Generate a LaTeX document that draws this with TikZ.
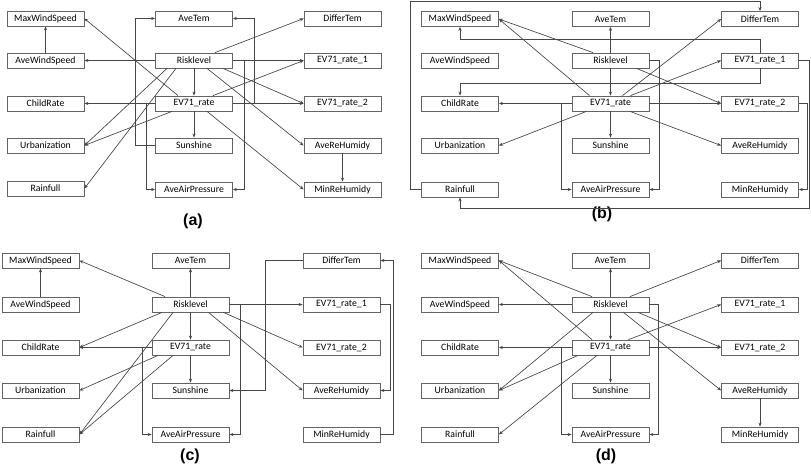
\documentclass[tikz,border=0pt]{standalone}
\usepackage{fontspec}
\usetikzlibrary{arrows.meta,calc}
\newfontfamily\boxfont{Carlito}
\newfontfamily\capfont{Liberation Sans}
\definecolor{edgegray}{RGB}{70,70,70}
\definecolor{boxgray}{RGB}{100,100,100}
\tikzset{every picture/.style={line width=0.5pt}}
\tikzset{
  var/.style={draw=boxgray, line width=0.6pt, minimum width=57.75pt, minimum height=11.25pt, inner sep=0pt, font=\boxfont\fontsize{7.3}{8}\selectfont},
  link/.style={draw=edgegray, -{Stealth[length=3pt,width=2.4pt]}},
  panellabel/.style={font=\capfont\bfseries\fontsize{12}{14}\selectfont}
}

\begin{document}
\begin{tikzpicture}[x=0.75pt,y=0.75pt,yscale=-1,xscale=1]
\useasboundingbox (0,0) rectangle (811,466);

%Panel (a)
\node [var] (amax)   at (45.5,18.5)  {MaxWindSpeed};
\node [var] (awind)  at (45.5,60.5)  {AveWindSpeed};
\node [var] (achild) at (45.5,103.5) {ChildRate};
\node [var] (aurb)   at (45.5,145.5) {Urbanization};
\node [var] (arain)  at (45.5,188.5) {Rainfull};
\node [var] (atem)   at (194,18.5)   {AveTem};
\node [var] (arisk)  at (194,60.5)   {Risklevel};
\node [var] (arate)  at (194,103.5)  {EV71\_rate};
\node [var] (asun)   at (194,145.5)  {Sunshine};
\node [var] (apres)  at (194,189.5)  {AveAirPressure};
\node [var] (adiff)  at (342.5,18.5) {DifferTem};
\node [var] (ar1)    at (342.5,60.5) {EV71\_rate\_1};
\node [var] (ar2)    at (342.5,103.5){EV71\_rate\_2};
\node [var] (ahum)   at (342.5,145.5){AveReHumidy};
\node [var] (amin)   at (342.5,189.5){MinReHumidy};
\node [panellabel] (acap) at (193,221) {(a)};

\draw [link] (awind.north) -- (amax.south);
\draw [link] (arisk.west) -- (awind.east);
\draw [link] ($(arate.north)+(-16,0)$) -- (amax.east);
\draw [link] (arate.west) -- (achild.east);
\draw [link] (arisk.south) -- (arate.north);
\draw [link] (asun.west) -- ++(-20,0) |- (atem.west);
\draw [link] (arate.west) -- ++(-9,0) |- (apres.west);
\draw [link] (arisk.east) -- ++(11,0) |- (apres.east);
\draw [link] (arate.east) -- ++(21,0) |- (atem.east);
\draw [link] (arisk.east) -- (ar1.west);
\draw [link] (arate.east) -- (ar2.west);
\draw [link] ($(arisk.north)+(21,0)$) -- (adiff.west);
\draw [link] ($(arate.north)+(19,0)$) -- (ar1.west);
\draw [link] ($(arisk.south)+(29,0)$) -- (ar2.west);
\draw [link] ($(arisk.south)+(13,0)$) -- (ahum.west);
\draw [link] ($(arate.south)+(13,0)$) -- (amin.west);
\draw [link] (ahum.south) -- (amin.north);
\draw [link] ($(arisk.south)+(-27,0)$) -- (aurb.east);
\draw [link] ($(arisk.south)+(-18,0)$) -- (arain.east);
\draw [link] ($(arate.south)+(-22,0)$) -- (aurb.east);
\draw [link] (arate.south) -- (asun.north);

%Panel (b)
\node [var] (bmax)   at (460,19)     {MaxWindSpeed};
\node [var] (bwind)  at (460,60.5)   {AveWindSpeed};
\node [var] (bchild) at (460,103.5)  {ChildRate};
\node [var] (burb)   at (460,145.5)  {Urbanization};
\node [var] (brain)  at (460,189.5)  {Rainfull};
\node [var] (btem)   at (610.5,19)   {AveTem};
\node [var] (brisk)  at (610.5,60.5) {Risklevel};
\node [var] (brate)  at (610.5,103.5){EV71\_rate};
\node [var] (bsun)   at (610.5,145.5){Sunshine};
\node [var] (bpres)  at (610.5,189.5){AveAirPressure};
\node [var] (bdiff)  at (760,19)     {DifferTem};
\node [var] (br1)    at (760,60.5)   {EV71\_rate\_1};
\node [var] (br2)    at (760,103.5)  {EV71\_rate\_2};
\node [var] (bhum)   at (760,145.5)  {AveReHumidy};
\node [var] (bmin)   at (760,189.5)  {MinReHumidy};
\node [panellabel] (bcap) at (602,214) {(b)};
\coordinate (btop) at (410,1.5);
\coordinate (bbot) at (809.5,208);

\draw [link] (brain.west) -| (btop) -| (bdiff.north);
\draw [link] (br1.north) -- ++(0,-13) -| (bmax.south);
\draw [link] (br1.south) -- ++(0,15) -| (bchild.north);
\draw [link] ($(brisk.north)+(-17.5,0)$) -- (bmax.east);
\draw [link] ($(brate.north)+(-21,0)$) -- (bmax.east);
\draw [link] (brisk.north) -- (btem.south);
\draw [link] (brisk.south) -- (brate.north);
\draw [link] (brisk.east) -- ++(10,0) |- (bpres.east);
\draw [link] ($(brate.north)+(12,0)$) -- (bdiff.west);
\draw [link] ($(brate.north)+(20,0)$) -- (br1.west);
\draw [link] ($(brisk.south)+(26,0)$) -- (br2.west);
\draw [link] (brate.east) -- (br2.west);
\draw [link] (brate.west) -- (bchild.east);
\draw [link] (brate.west) -- ++(-10,0) |- (bpres.west);
\draw [link] ($(brate.south)+(-24,0)$) -- (burb.east);
\draw [link] (brate.south) -- (bsun.north);
\draw [link] ($(brate.south)+(19.5,0)$) -- (bhum.west);
\draw [link] (br2.east) -- ++(8,0) |- (bmin.east);
\draw [link] (br1.east) -| (bbot) -| (brain.south);

%Panel (c)
\node [var] (cmax)   at (40.5,260.5)  {MaxWindSpeed};
\node [var] (cwind)  at (40.5,304.5)  {AveWindSpeed};
\node [var] (cchild) at (40.5,347.5)  {ChildRate};
\node [var] (curb)   at (40.5,390.5)  {Urbanization};
\node [var] (crain)  at (40.5,434.5)  {Rainfull};
\node [var] (ctem)   at (190.5,260.5) {AveTem};
\node [var] (crisk)  at (190.5,304.5) {Risklevel};
\node [var] (crate)  at (190.5,347.5) {EV71\_rate};
\node [var] (csun)   at (190.5,390.5) {Sunshine};
\node [var] (cpres)  at (190.5,434.5) {AveAirPressure};
\node [var] (cdiff)  at (341.5,260.5) {DifferTem};
\node [var] (cr1)    at (341.5,304.5) {EV71\_rate\_1};
\node [var] (cr2)    at (341.5,347.5) {EV71\_rate\_2};
\node [var] (chum)   at (341.5,390.5) {AveReHumidy};
\node [var] (cmin)   at (341.5,434.5) {MinReHumidy};
\node [panellabel] (ccap) at (190,456) {(c)};

\draw [link] (cwind.north) -- (cmax.south);
\draw [link] ($(crisk.north)+(-25.5,0)$) -- (cmax.east);
\draw [link] (crisk.north) -- (ctem.south);
\draw [link] (crisk.south) -- (crate.north);
\draw [link] ($(crisk.south)+(-28.5,0)$) -- (cchild.east);
\draw [link] (crate.west) -- (cchild.east);
\draw [link] (crate.west) -- ++(-9,0) |- (cpres.west);
\draw [link] ($(crisk.south)+(-17.5,0)$) -- (crain.east);
\draw [link] ($(crate.south)+(-17.5,0)$) -- (crain.east);
\draw [link] ($(crate.south)+(-32.5,0)$) -- (curb.east);
\draw [link] (crate.south) -- (csun.north);
\draw [link] (cdiff.west) -- ++(-37,0) |- (csun.east);
\draw [link] (crisk.east) -- (cr1.west);
\draw [link] (crisk.east) -- ++(11,0) |- (cpres.east);
\draw [link] ($(crisk.south)+(33,0)$) -- (cr2.west);
\draw [link] ($(crisk.south)+(18,0)$) -- (chum.west);
\draw [link] (cr1.east) -- ++(10,0) |- (chum.east);
\draw [link] (cmin.east) -- ++(13,0) |- (cdiff.east);

%Panel (d)
\node [var] (dmax)   at (460,260.5)   {MaxWindSpeed};
\node [var] (dwind)  at (460,304.5)   {AveWindSpeed};
\node [var] (dchild) at (460,347.5)   {ChildRate};
\node [var] (durb)   at (460,390.5)   {Urbanization};
\node [var] (drain)  at (460,434.5)   {Rainfull};
\node [var] (dtem)   at (610.5,260.5) {AveTem};
\node [var] (drisk)  at (610.5,304.5) {Risklevel};
\node [var] (drate)  at (610.5,347.5) {EV71\_rate};
\node [var] (dsun)   at (610.5,390.5) {Sunshine};
\node [var] (dpres)  at (610.5,434.5) {AveAirPressure};
\node [var] (ddiff)  at (760,260.5)   {DifferTem};
\node [var] (dr1)    at (760,304.5)   {EV71\_rate\_1};
\node [var] (dr2)    at (760,347.5)   {EV71\_rate\_2};
\node [var] (dhum)   at (760,390.5)   {AveReHumidy};
\node [var] (dmin)   at (760,434.5)   {MinReHumidy};
\node [panellabel] (dcap) at (606,456) {(d)};

\draw [link] ($(drisk.north)+(-18.5,0)$) -- (dmax.east);
\draw [link] ($(drate.north)+(-18.5,0)$) -- (dmax.east);
\draw [link] (drisk.north) -- (dtem.south);
\draw [link] ($(drisk.north)+(19.5,0)$) -- (ddiff.west);
\draw [link] (drisk.west) -- (dwind.east);
\draw [link] (drisk.south) -- (drate.north);
\draw [link] (drisk.east) -- ++(9,0) |- (dpres.east);
\draw [link] ($(drate.north)+(18,0)$) -- (dr1.west);
\draw [link] ($(drisk.south)+(27.5,0)$) -- (dr2.west);
\draw [link] (drate.east) -- (dr2.west);
\draw [link] ($(drisk.south)+(13,0)$) -- (dhum.west);
\draw [link] (dhum.south) -- (dmin.north);
\draw [link] (drate.west) -- (dchild.east);
\draw [link] (drate.west) -- ++(-10,0) |- (dpres.west);
\draw [link] ($(drisk.south)+(-17.5,0)$) -- (durb.east);
\draw [link] ($(drate.south)+(-32.5,0)$) -- (durb.east);
\draw [link] ($(drate.south)+(-13.5,0)$) -- (drain.east);
\draw [link] (drate.south) -- (dsun.north);

\end{tikzpicture}
\end{document}
